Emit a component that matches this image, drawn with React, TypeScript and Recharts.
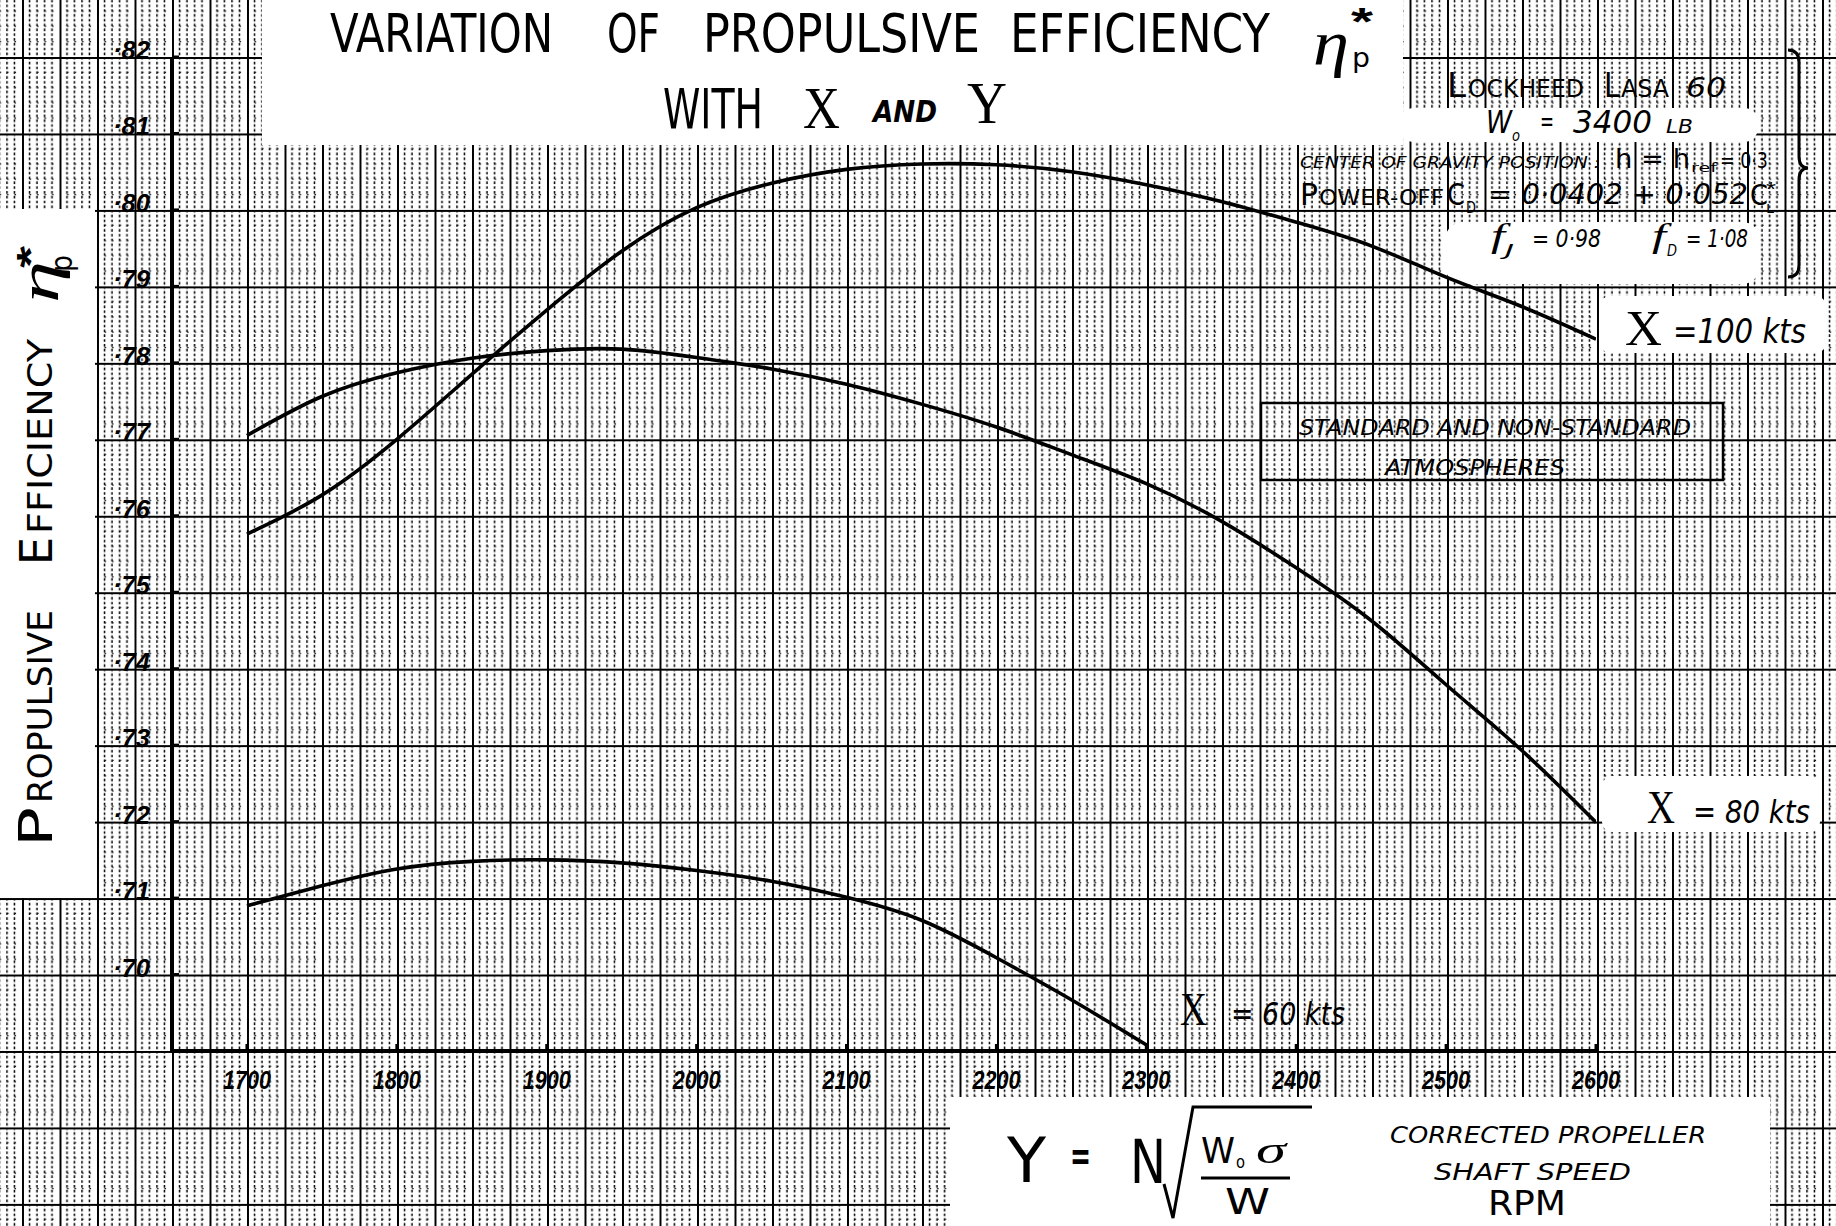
import React from "react";
import { LineChart, Line, XAxis, YAxis } from "recharts";

// corrected propeller shaft speed Y (rpm)
const rpm = [1700, 1750, 1800, 1850, 1900, 1950, 2000, 2050, 2100, 2150, 2200, 2250, 2300, 2350, 2400, 2450, 2500, 2550, 2600];

// propulsive efficiency for each forward speed X
const eta100 = [0.7576, 0.7627, 0.77, 0.7785, 0.7869, 0.7946, 0.8003, 0.8035, 0.8053, 0.806, 0.8059, 0.805, 0.8033, 0.8011, 0.7984, 0.7953, 0.7912, 0.7874, 0.7831];
const eta80 = [0.7705, 0.7756, 0.7787, 0.7806, 0.7816, 0.7818, 0.7807, 0.7792, 0.7772, 0.7746, 0.7716, 0.768, 0.7642, 0.7593, 0.7532, 0.7463, 0.7379, 0.7294, 0.7199];
const eta60 = [0.709, 0.7116, 0.7138, 0.7148, 0.715, 0.7146, 0.7136, 0.7122, 0.7101, 0.7071, 0.7022, 0.6967, 0.6908];

const rpmTicks = [1700, 1800, 1900, 2000, 2100, 2200, 2300, 2400, 2500, 2600];
const etaTicks = [0.7, 0.71, 0.72, 0.73, 0.74, 0.75, 0.76, 0.77, 0.78, 0.79, 0.8, 0.81, 0.82];

const W = 1836;
const H = 1226;

const HAND = "'Liberation Sans Narrow', 'DejaVu Sans Condensed', 'Liberation Sans', sans-serif";
const BOLD = "'Liberation Sans', 'DejaVu Sans', sans-serif";
const SERIF = "'Liberation Serif', 'DejaVu Serif', serif";

const data = rpm.map((r, i) => ({
  rpm: r,
  x100: eta100[i],
  x80: eta80[i],
  x60: i < eta60.length ? eta60[i] : null,
}));

function T({ x, y, size, len, family = HAND, weight = 400, italic = false, anchor = "start", children }: any) {
  return (
    <text
      x={x}
      y={y}
      fontSize={size}
      fontFamily={family}
      fontWeight={weight}
      fontStyle={italic ? "italic" : "normal"}
      textAnchor={anchor}
      textLength={len}
      lengthAdjust={len ? "spacingAndGlyphs" : undefined}
      fill="#000"
    >
      {children}
    </text>
  );
}

function RpmTick({ x, y, payload }: any) {
  return (
    <g>
      <line x1={x} x2={x} y1={y - 7} y2={y} stroke="#000" strokeWidth={3} />
      <T x={x} y={y + 38} size={26} len={48} family={BOLD} weight={700} italic anchor="middle">
        {payload.value}
      </T>
    </g>
  );
}

function EtaTick({ x, y, payload }: any) {
  const label = "·" + Math.round(payload.value * 100);
  return (
    <g>
      <line x1={x} x2={x + 7} y1={y} y2={y} stroke="#000" strokeWidth={3} />
      <T x={x - 22} y={y + 2} size={26} len={37} family={BOLD} weight={700} italic anchor="end">
        {label}
      </T>
    </g>
  );
}

function Paper() {
  const cw = 37.5;
  const ch = 76.46;
  return (
    <svg width={W} height={H} style={{ position: "absolute", left: 0, top: 0 }}>
      <defs>
        <pattern id="paper" patternUnits="userSpaceOnUse" x={172} y={57} width={cw} height={ch}>
          {[7.5, 15, 22.5, 30].map((v) => (
            <line key={"v" + v} x1={v} x2={v} y1={0} y2={ch} stroke="#000" strokeWidth={1.5} strokeDasharray="2.6 2.2" />
          ))}
          {[15.29, 30.58, 45.88, 61.17].map((v) => (
            <line key={"h" + v} x1={0} x2={cw} y1={v} y2={v} stroke="#111" strokeWidth={1.2} strokeDasharray="1.6 5.9" />
          ))}
          <line x1={1} x2={1} y1={0} y2={ch} stroke="#000" strokeWidth={2} />
          <line x1={0} x2={cw} y1={1} y2={1} stroke="#000" strokeWidth={2} />
        </pattern>
      </defs>
      <rect width={W} height={H} fill="#fff" />
      <rect width={W} height={H} fill="url(#paper)" />
      {/* pasted-over white areas */}
      <rect x={262} y={0} width={1141} height={145} fill="#fff" />
      <rect x={0} y={209} width={95} height={689} fill="#fff" />
      <rect x={950} y={1097} width={820} height={129} fill="#fff" />
      <rect x={1400} y={108} width={358} height={34} rx={14} fill="#fff" />
      <rect x={1445} y={222} width={315} height={62} rx={18} fill="#fff" />
      <rect x={1600} y={296} width={226} height={57} rx={10} fill="#fff" />
      <rect x={1602} y={776} width={218} height={56} rx={10} fill="#fff" />
    </svg>
  );
}

function Notes() {
  return (
    <svg width={W} height={H} style={{ position: "absolute", left: 0, top: 0, pointerEvents: "none" }}>
      {/* title */}
      <T x={330} y={52} size={54} len={223}>VARIATION</T>
      <T x={607} y={52} size={54} len={53}>OF</T>
      <T x={703} y={52} size={54} len={277}>PROPULSIVE</T>
      <T x={1010} y={52} size={54} len={260}>EFFICIENCY</T>
      <T x={1313} y={64} size={64} len={36} family={SERIF} italic>η</T>
      <T x={1351} y={35} size={38} len={22} family={BOLD} weight={700}>*</T>
      <T x={1352} y={67} size={26} len={18}>p</T>
      <T x={663} y={128} size={55} len={100}>WITH</T>
      <T x={803} y={128} size={60} len={37} family={SERIF}>X</T>
      <T x={873} y={122} size={30} len={64} weight={700} italic>AND</T>
      <T x={967} y={123} size={60} len={40} family={SERIF}>Y</T>

      {/* y-axis title */}
      <g transform="translate(52,0) rotate(-90)">
        <T x={-847} y={0} size={46} len={40}>P</T>
        <T x={-803} y={0} size={34} len={193}>ROPULSIVE</T>
        <T x={-565} y={0} size={44} len={28}>E</T>
        <T x={-534} y={0} size={34} len={195}>FFICIENCY</T>
        <T x={-303} y={6} size={56} len={42} family={SERIF} italic>η</T>
        <T x={-268} y={-8} size={38} len={22} family={BOLD} weight={700}>*</T>
        <T x={-272} y={20} size={30} len={17}>p</T>
      </g>

      {/* aircraft data */}
      <T x={1447} y={97} size={34} len={19}>L</T>
      <T x={1468} y={97} size={24} len={116}>OCKHEED</T>
      <T x={1604} y={97} size={34} len={16}>L</T>
      <T x={1621} y={97} size={24} len={48}>ASA</T>
      <T x={1686} y={97} size={26} len={40} italic>60</T>
      <T x={1486} y={133} size={32} len={26} italic>W</T>
      <T x={1512} y={141} size={16} len={8} italic>o</T>
      <T x={1540} y={131} size={28} len={14}>=</T>
      <T x={1573} y={133} size={32} len={79} italic>3400</T>
      <T x={1666} y={133} size={20} len={27} italic>LB</T>

      <T x={1300} y={168} size={16} len={300} italic>CENTER OF GRAVITY POSITION :</T>
      <T x={1615} y={168} size={26} len={75}>h = h</T>
      <T x={1691} y={172} size={13} len={26}>ref</T>
      <T x={1720} y={168} size={22} len={48}>= 0·3</T>

      <T x={1300} y={205} size={30} len={18}>P</T>
      <T x={1319} y={205} size={22} len={125}>OWER-OFF</T>
      <T x={1447} y={205} size={30} len={18}>C</T>
      <T x={1466} y={213} size={15} len={10}>D</T>
      <T x={1488} y={204} size={28} len={260} italic>=  0·0402 + 0·052</T>
      <T x={1750} y={205} size={28} len={18}>C</T>
      <T x={1766} y={213} size={13} len={8}>L</T>
      <T x={1766} y={196} size={20} len={10} family={BOLD}>*</T>

      <T x={1491} y={247} size={34} len={14} family={SERIF} italic>f</T>
      <T x={1505} y={256} size={16} len={9} italic>J</T>
      <T x={1532} y={247} size={24} len={69} italic>= 0·98</T>
      <T x={1652} y={247} size={34} len={14} family={SERIF} italic>f</T>
      <T x={1667} y={256} size={16} len={10} italic>D</T>
      <T x={1686} y={247} size={24} len={62} italic>= 1·08</T>

      <path
        d="M1788 50 Q1799 50 1799 62 L1799 156 Q1799 168 1808 168 Q1799 168 1799 180 L1799 265 Q1799 277 1788 277"
        fill="none"
        stroke="#000"
        strokeWidth={3}
      />

      {/* atmosphere note */}
      <rect x={1261} y={403} width={462} height={77} fill="none" stroke="#000" strokeWidth={2.5} />
      <T x={1299} y={435} size={22} len={392} italic>STANDARD  AND  NON-STANDARD</T>
      <T x={1385} y={475} size={22} len={180} italic>ATMOSPHERES</T>

      {/* curve labels */}
      <T x={1625} y={345} size={50} len={37} family={SERIF}>X</T>
      <T x={1673} y={343} size={34} len={133} italic>=100 kts</T>
      <T x={1647} y={823} size={46} len={28} family={SERIF}>X</T>
      <T x={1693} y={823} size={32} len={117} italic>= 80 kts</T>
      <T x={1180} y={1025} size={46} len={27} family={SERIF}>X</T>
      <T x={1231} y={1025} size={32} len={114} italic>= 60 kts</T>

      {/* x-axis title */}
      <T x={1007} y={1182} size={62} len={39}>Y</T>
      <T x={1070} y={1170} size={40} len={21} weight={700}>=</T>
      <T x={1130} y={1183} size={60} len={36}>N</T>
      <path d="M1164 1184 L1173 1218 L1193 1107 L1312 1107" fill="none" stroke="#000" strokeWidth={3} />
      <T x={1201} y={1163} size={36} len={34}>W</T>
      <T x={1236} y={1168} size={18} len={9}>o</T>
      <T x={1256} y={1163} size={38} len={30} family={SERIF} italic>σ</T>
      <line x1={1201} x2={1290} y1={1178} y2={1178} stroke="#000" strokeWidth={3} />
      <T x={1225} y={1214} size={36} len={45}>W</T>
      <T x={1390} y={1143} size={23} len={316} italic>CORRECTED  PROPELLER</T>
      <T x={1434} y={1180} size={23} len={197} italic>SHAFT  SPEED</T>
      <T x={1488} y={1215} size={34} len={78}>RPM</T>
    </svg>
  );
}

export default function App() {
  return (
    <div style={{ position: "absolute", left: 0, top: 0, width: W, height: H, overflow: "hidden", background: "#fff" }}>
      <Paper />
      <div style={{ position: "absolute", left: 0, top: 0 }}>
        <LineChart width={W} height={H} data={data} margin={{ top: 57, right: 240, bottom: 115, left: 112 }}>
          <XAxis
            type="number"
            dataKey="rpm"
            domain={[1650, 2600]}
            ticks={rpmTicks}
            allowDataOverflow
            height={60}
            tickSize={0}
            tickMargin={0}
            tickLine={false}
            axisLine={{ stroke: "#000", strokeWidth: 4 }}
            tick={<RpmTick />}
          />
          <YAxis
            type="number"
            domain={[0.69, 0.82]}
            ticks={etaTicks}
            allowDataOverflow
            width={60}
            tickSize={0}
            tickMargin={0}
            tickLine={false}
            axisLine={{ stroke: "#000", strokeWidth: 4 }}
            tick={<EtaTick />}
          />
          <Line type="natural" dataKey="x100" stroke="#000" strokeWidth={3.6} dot={false} activeDot={false} isAnimationActive={false} />
          <Line type="natural" dataKey="x80" stroke="#000" strokeWidth={3.6} dot={false} activeDot={false} isAnimationActive={false} />
          <Line type="natural" dataKey="x60" stroke="#000" strokeWidth={3.6} dot={false} activeDot={false} isAnimationActive={false} />
        </LineChart>
      </div>
      <Notes />
    </div>
  );
}
